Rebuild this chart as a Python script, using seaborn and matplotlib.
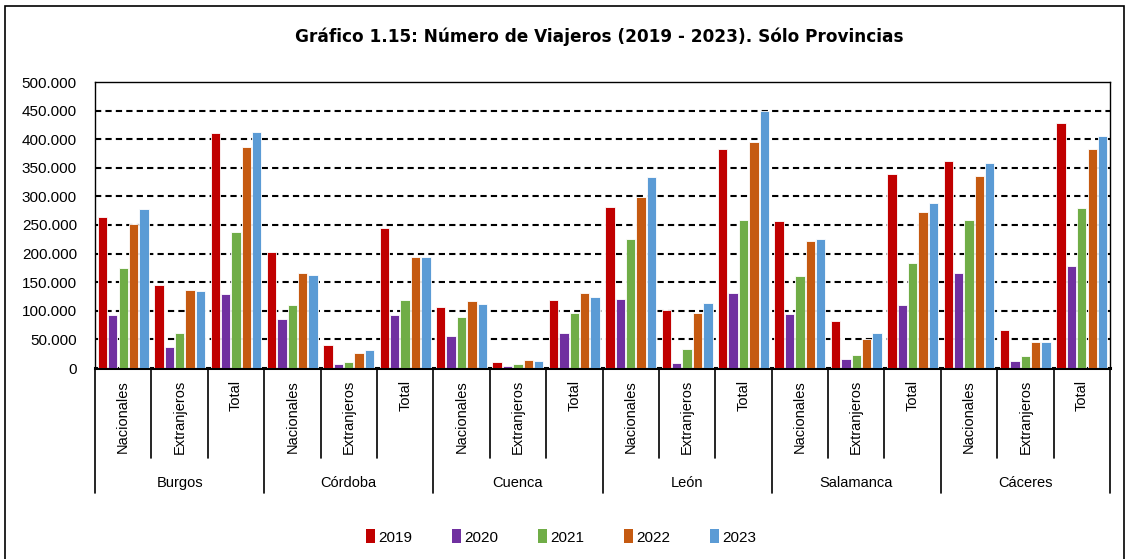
import numpy as np
import pandas as pd
import matplotlib
matplotlib.use("Agg")
import matplotlib.pyplot as plt
from matplotlib.patches import Rectangle, Patch
from matplotlib.ticker import FuncFormatter
import seaborn as sns

# === DATA ===
provincias = ["Burgos", "Córdoba", "Cuenca", "León", "Salamanca", "Cáceres"]
tipos = ["Nacionales", "Extranjeros", "Total"]
years = ["2019", "2020", "2021", "2022", "2023"]

v2019 = [264000, 145000, 410000, 203000, 40000, 244000, 107000, 11000, 119000,
         281000, 101000, 382000, 257000, 83000, 340000, 362000, 66000, 428000]
v2020 = [92600, 37000, 130000, 85600, 7000, 92600, 56000, 3500, 60600,
         120600, 9000, 130500, 94000, 16000, 111000, 165500, 12800, 178000]
v2021 = [174000, 62000, 237000, 109600, 10000, 119000, 89700, 7000, 97000,
         225000, 32700, 258000, 160000, 23000, 184000, 258700, 21000, 280000]
v2022 = [251000, 136000, 387000, 166600, 26800, 193500, 116600, 14000, 130500,
         299000, 96000, 395600, 222500, 50700, 273000, 336000, 46000, 382000]
v2023 = [278000, 134000, 412000, 163000, 31500, 194600, 112000, 12000, 124000,
         334000, 113600, 449000, 226000, 62000, 289000, 359000, 46000, 405600]

colors = ["#C00000", "#7030A0", "#70AD47", "#C55A11", "#5B9BD5"]

# long table for seaborn
cats = [f"{p}|{t}" for p in provincias for t in tipos]
rows = []
for yr, vals in zip(years, [v2019, v2020, v2021, v2022, v2023]):
    for c, v in zip(cats, vals):
        rows.append({"cat": c, "year": yr, "value": v})
df = pd.DataFrame(rows)

# === PLOT ===
sns.set_style("white")
plt.rcParams["font.family"] = ["Liberation Sans", "DejaVu Sans"]
plt.rcParams["text.color"] = "black"
plt.rcParams["ytick.color"] = "black"

W, H = 1132, 559
fig = plt.figure(figsize=(W / 100, H / 100), dpi=100)
ax = fig.add_axes([95 / W, 1 - 368 / H, (1110 - 95) / W, (368 - 82) / H])

sns.barplot(data=df, x="cat", y="value", hue="year", order=cats, hue_order=years,
            palette=colors, width=0.92, gap=0.1, edgecolor="white", linewidth=0.6,
            saturation=1, errorbar=None, legend=False, ax=ax, zorder=3)

ax.set_xlim(-0.5, len(cats) - 0.5)
ax.set_ylim(0, 500000)
ax.set_yticks(np.arange(0, 500001, 50000))
ax.yaxis.set_major_formatter(FuncFormatter(lambda v, p: f"{int(v):,}".replace(",", ".")))
ax.tick_params(axis="y", labelsize=11, length=0, pad=13, labelcolor="black")
ax.set_xticks([])
ax.set_xlabel("")
ax.set_ylabel("")

for yv in np.arange(50000, 450001, 50000):
    ax.axhline(yv, color="black", lw=1.5, ls=(0, (3, 2)), zorder=1)

for s in ["left", "right", "top"]:
    ax.spines[s].set_visible(True)
    ax.spines[s].set_color("black")
    ax.spines[s].set_linewidth(1.0)
ax.spines["bottom"].set_color("black")
ax.spines["bottom"].set_linewidth(2.2)

# multi-level category axis
ph = 368 - 82
tr = ax.get_xaxis_transform()
for i in range(len(cats) + 1):
    x = i - 0.5
    depth = 125 if i % 3 == 0 else 90
    ax.plot([x, x], [0, -depth / ph], transform=tr, color="black", lw=1.2,
            clip_on=False, zorder=5)
for i, c in enumerate(cats):
    ax.text(i, -12 / ph, c.split("|")[1], transform=tr, rotation=90,
            ha="center", va="top", fontsize=10.5, color="black")
for g, p in enumerate(provincias):
    ax.text(g * 3 + 1, -115 / ph, p, transform=tr, ha="center", va="center",
            fontsize=10.5, color="black")

# title
fig.text(599 / W, 1 - 37 / H, "Gráfico 1.15: Número de Viajeros (2019 - 2023). Sólo Provincias",
         ha="center", va="center", fontsize=12.2, fontweight="bold",
         family="DejaVu Sans", color="black")

# legend
handles = [Patch(facecolor=c, edgecolor="none") for c in colors]
fig.legend(handles, years, loc="center", bbox_to_anchor=(561 / W, 1 - 537 / H),
           ncol=5, frameon=False, fontsize=11, handlelength=0.6, handleheight=1.0,
           handletextpad=0.2, columnspacing=2.6)

# outer chart border
fig.patches.append(Rectangle((5 / W, -0.01), (1124 - 5) / W, 1 - 6 / H + 0.01,
                             transform=fig.transFigure, fill=False,
                             edgecolor="black", lw=1.2))

fig.savefig("out.png", dpi=100)
